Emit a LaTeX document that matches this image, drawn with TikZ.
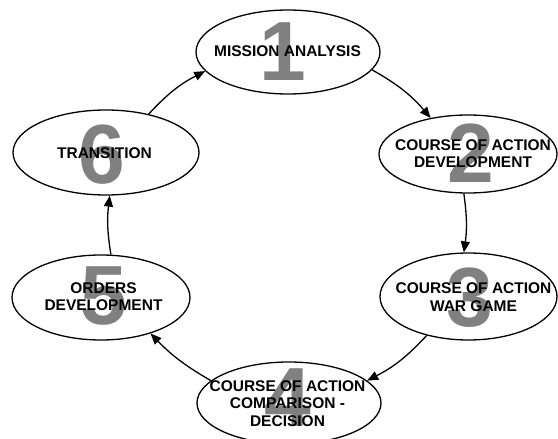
\documentclass[tikz,border=0pt]{standalone}
\usepackage{fontspec}
\setmainfont{Liberation Sans}
\usetikzlibrary{shapes.geometric,arrows.meta}
\definecolor{stepgray}{HTML}{808080}
\begin{document}
\begin{tikzpicture}[x=1pt,y=-1pt,
  phase/.style={ellipse,draw=black,fill=white,line width=1.3pt,inner sep=0pt},
  stepnum/.style={inner sep=0pt,text=stepgray,font=\fontsize{84}{84}\selectfont\bfseries},
  label/.style={inner sep=0pt,align=center,font=\fontsize{15.5}{17.5}\selectfont\bfseries},
  flow/.style={line width=1.3pt,-{Triangle[length=11pt,width=9pt]},bend left=10}]
\useasboundingbox (0,0) rectangle (558,439);

% phase ellipses
\node[phase,minimum width=184pt,minimum height=84pt] (e1) at (288,52) {};
\node[phase,minimum width=178pt,minimum height=78pt] (e2) at (468,154) {};
\node[phase,minimum width=177pt,minimum height=87pt] (e3) at (468.5,296.5) {};
\node[phase,minimum width=184pt,minimum height=82pt] (e4) at (289,403) {};
\node[phase,minimum width=178pt,minimum height=85pt] (e5) at (101,297.5) {};
\node[phase,minimum width=186pt,minimum height=85pt] (e6) at (106,152.5) {};

% large step numbers
\node[stepnum] (n1) at (283,52) {1};
\node[stepnum] (n2) at (470.5,153) {2};
\node[stepnum] (n3) at (469.5,297.5) {3};
\node[stepnum] (n4) at (287.5,398) {4};
\node[stepnum] (n5) at (103.5,296.5) {5};
\node[stepnum] (n6) at (101.5,155) {6};

% phase names
\node[label] (t1) at (287.5,51) {MISSION ANALYSIS};
\node[label] (t2) at (473,153.5) {COURSE OF ACTION\\DEVELOPMENT};
\node[label] (t3) at (473.5,297) {COURSE OF ACTION\\WAR GAME};
\node[label] (t4) at (287.5,403.5) {COURSE OF ACTION\\COMPARISON -\\DECISION};
\node[label] (t5) at (103.5,296.5) {ORDERS\\DEVELOPMENT};
\node[label] (t6) at (104.5,153) {TRANSITION};

% cycle connectors
\draw[flow] (e1.-12) to (e2.136);
\draw[flow,bend left=8] (e2.-96) to (e3.96);
\draw[flow] (e3.-137) to (e4.16);
\draw[flow,bend left=8] (e4.164) to (e5.-36);
\draw[flow,bend left=8] (e5.77) to (e6.-85);
\draw[flow] (e6.42) to (e1.193);
\end{tikzpicture}
\end{document}
